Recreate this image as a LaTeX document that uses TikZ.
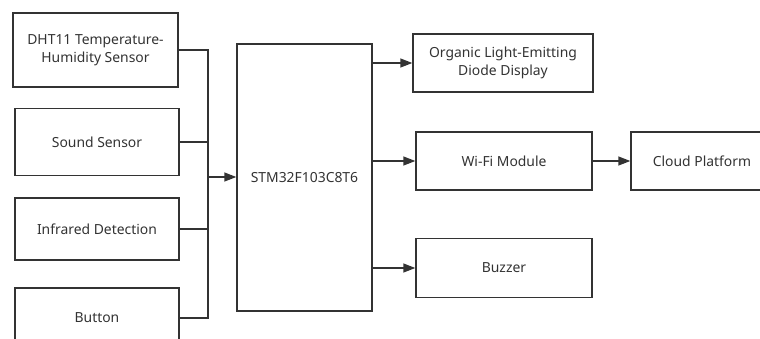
\documentclass[tikz,border=0pt]{standalone}
\usepackage{fontspec}
\setmainfont{Noto Sans}
\usetikzlibrary{arrows.meta}
\definecolor{linegray}{HTML}{333333}
\definecolor{textgray}{HTML}{333333}
\begin{document}
\begin{tikzpicture}[x=1pt,y=-1pt,
    box/.style={draw=linegray,line width=1.4pt,rectangle,align=center,
        text=textgray,font=\fontsize{13.9}{17.5}\selectfont,inner sep=0pt},
    link/.style={draw=linegray,line width=1.4pt},
    arr/.style={link,-{Triangle[length=12pt,width=9pt]}}]
    \useasboundingbox (0,0) rectangle (760,338);
    \clip (0,0) rectangle (760,338);
    % inputs
    \node[box,minimum width=165pt,minimum height=74pt] (dht) at (95.5,50) {DHT11 Temperature-\\Humidity Sensor};
    \node[box,minimum width=164pt,minimum height=67pt] (sound) at (97,142) {Sound Sensor};
    \node[box,minimum width=164pt,minimum height=62pt] (ir) at (97,229) {Infrared Detection};
    \node[box,minimum width=164pt,minimum height=60pt] (button) at (97,318) {Button};
    % controller
    \node[box,minimum width=135pt,minimum height=267pt] (mcu) at (304.5,177.5) {STM32F103C8T6};
    % outputs
    \node[box,minimum width=180pt,minimum height=58pt] (oled) at (503,63) {Organic Light-Emitting\\Diode Display};
    \node[box,minimum width=176pt,minimum height=58pt] (wifi) at (504,161) {Wi-Fi Module};
    \node[box,minimum width=176pt,minimum height=59pt] (buzzer) at (504,268) {Buzzer};
    \node[box,minimum width=142pt,minimum height=58pt] (cloud) at (702,161) {Cloud Platform};
    \coordinate (bus) at (208,177);
    \foreach \n in {dht,sound,ir,button}{
        \draw[link] (\n.east) -| (bus);
    }
    \draw[arr] (bus) -- (bus -| mcu.west);
    \foreach \n in {oled,wifi,buzzer}{
        \draw[arr] (mcu.east |- \n) -- (\n.west);
    }
    \draw[arr] (wifi) -- (cloud);
\end{tikzpicture}
\end{document}
